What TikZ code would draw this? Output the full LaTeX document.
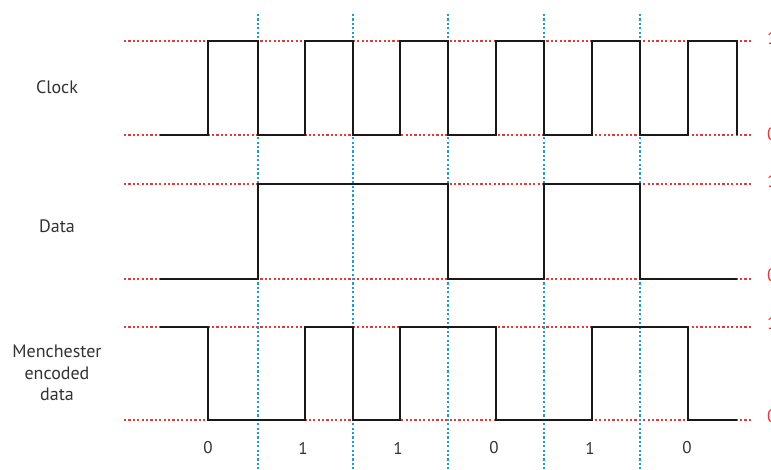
\documentclass[tikz,border=0pt]{standalone}
\usepackage{fontspec}
\setmainfont{PT Sans}
\definecolor{lvlred}{HTML}{E53935}
\definecolor{gridblue}{HTML}{1E9BD0}
\definecolor{txtgray}{HTML}{333333}
\begin{document}
\begin{tikzpicture}[x=1pt,y=-1pt,
  sig/.style={line width=2.8pt, black!90, line join=miter, line cap=butt},
  lvl/.style={draw=lvlred, line width=1.2pt, dash pattern=on 2.2pt off 2.2pt},
  bitgrid/.style={draw=gridblue, line width=1.2pt, dash pattern=on 2.2pt off 2.2pt},
  lbl/.style={font=\fontsize{18}{21.5}\selectfont, text=txtgray, align=center, inner sep=0pt},
  bitlbl/.style={font=\fontsize{17}{20}\selectfont, text=txtgray, inner sep=0pt},
  edge/.style={font=\fontsize{18}{20}\selectfont, text=lvlred, anchor=west, inner sep=0pt}]
\useasboundingbox[fill=white] (0,0) rectangle (771,470);

% level guides
\foreach \yy in {41,135,184,279,327,420}
  \path[lvl] (124,\yy) -- (753,\yy);

% bit boundaries
\foreach \xx in {258,353,448,544,640}
  \path[bitgrid] (\xx,14) -- (\xx,470);

% signals
\draw[sig] (160,135) -- (208,135) -- (208,41) -- (258,41) -- (258,135) -- (305,135) -- (305,41) -- (353,41) -- (353,135) -- (400,135) -- (400,41) -- (448,41) -- (448,135) -- (496,135) -- (496,41) -- (544,41) -- (544,135) -- (592,135) -- (592,41) -- (640,41) -- (640,135) -- (688,135) -- (688,41) -- (737,41) -- (737,135);
\draw[sig] (160,279) -- (258,279) -- (258,184) -- (448,184) -- (448,279) -- (544,279) -- (544,184) -- (640,184) -- (640,279) -- (737,279);
\draw[sig] (160,327) -- (208,327) -- (208,420) -- (305,420) -- (305,327) -- (353,327) -- (353,420) -- (400,420) -- (400,327) -- (496,327) -- (496,420) -- (592,420) -- (592,327) -- (688,327) -- (688,420) -- (737,420);

% row labels
\node[lbl] (clk) at (57,87) {Clock};
\node[lbl] (dat) at (57,226) {Data};
\node[lbl] (man) at (57,373) {Menchester\\encoded\\data};

% bit values
\node[bitlbl] (b1) at (208,448) {0};
\node[bitlbl] (b2) at (303,448) {1};
\node[bitlbl] (b3) at (398,448) {1};
\node[bitlbl] (b4) at (494,448) {0};
\node[bitlbl] (b5) at (590,448) {1};
\node[bitlbl] (b6) at (687,448) {0};

% level marks, cut off at the right edge as in the reference
\node[edge] (h1) at (767,38) {1};
\node[edge] (l1) at (767,134) {0};
\node[edge] (h2) at (767,181) {1};
\node[edge] (l2) at (767,275) {0};
\node[edge] (h3) at (767,323) {1};
\node[edge] (l3) at (767,416) {0};
\end{tikzpicture}
\end{document}
